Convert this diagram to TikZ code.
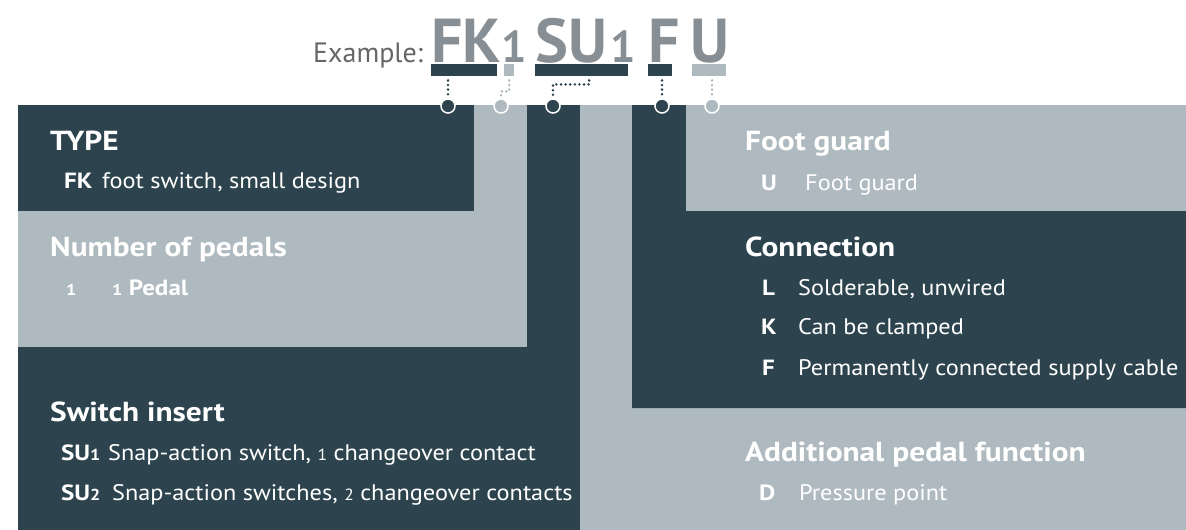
\documentclass[tikz,border=0pt]{standalone}
\usepackage{fontspec}
\setmainfont{PT Sans}[FakeStretch=1.08, BoldFeatures={FakeStretch=1.14}]
\newfontfamily\codefont{PT Sans}
\usetikzlibrary{positioning}

\definecolor{panelDark}{HTML}{2D444E}
\definecolor{panelLight}{HTML}{AFBAC0}
\definecolor{codeGray}{HTML}{878F94}
\definecolor{labelGray}{HTML}{666666}

\newcommand{\ofig}[1]{\scalebox{0.72}{#1}}

\tikzset{
  title/.style={anchor=base west, inner sep=0pt, text=white, font=\fontsize{27.5}{32}\selectfont\bfseries},
  entry/.style={anchor=base west, inner sep=0pt, text=white, font=\fontsize{22.5}{26}\selectfont},
  key/.style={entry, font=\fontsize{22}{26}\selectfont\bfseries},
  code/.style={anchor=base west, inner sep=0pt, text=codeGray, font=\codefont\fontsize{62}{70}\selectfont\bfseries},
  bar/.style={anchor=north west, inner sep=0pt, minimum height=12pt},
  pin/.style={circle, draw=white, line width=1.5pt, minimum size=14pt, inner sep=0pt},
  dots/.style={line width=2.8pt, dash pattern=on 0pt off 4.6pt, line cap=round},
}

\begin{document}
\begin{tikzpicture}[x=1pt, y=-1pt]
    \useasboundingbox (0,0) rectangle (1186,530);

    % Left column
    \fill [panelLight] (474,105) -| (527,347) -| (18,211) -| (474,105) -- cycle;
    \fill [panelDark] (18,105) rectangle (474,211);
    \fill [panelDark] (527,105) -| (580,530) -| (18,347) -| (527,105) -- cycle;

    % Right column
    \fill [panelLight] (580,105) -| (632,408) -| (1186,530) -| (580,105) -- cycle;
    \fill [panelDark] (632,105) -| (686,211) -| (1186,408) -| (632,105) -- cycle;
    \fill [panelLight] (686,105) rectangle (1186,211);

    % Example code
    \node [anchor=base west, inner sep=0pt, text=labelGray, font=\codefont\fontsize{28}{32}\selectfont] (example) at (313,62) {Example:};
    \node [code] (codeFK) at (431,62) {FK};
    \node [code] (codeOne) at (501,62) {\ofig{1}};
    \node [code] (codeSU) at (535,62) {SU};
    \node [code] (codeSUone) at (610,62) {\ofig{1}};
    \node [code] (codeF) at (648,62) {F};
    \node [code] (codeU) at (690,62) {U};

    % Bars under the code
    \node [bar, fill=panelDark, minimum width=66pt] (barFK) at (431,64) {};
    \node [bar, fill=panelLight, minimum width=10pt] (barOne) at (504,64) {};
    \node [bar, fill=panelDark, minimum width=93pt] (barSU) at (535,64) {};
    \node [bar, fill=panelDark, minimum width=24pt] (barF) at (648,64) {};
    \node [bar, fill=panelLight, minimum width=34pt] (barU) at (692,64) {};

    % Pins on the panels
    \node [pin, fill=panelDark] (pinType) at (448,106) {};
    \node [pin, fill=panelLight] (pinPedals) at (501,106) {};
    \node [pin, fill=panelDark] (pinSwitch) at (553,106) {};
    \node [pin, fill=panelDark] (pinConn) at (662,106) {};
    \node [pin, fill=panelLight] (pinGuard) at (712,106) {};

    % Dotted leaders
    \draw [dots, panelDark] ([yshift=-4pt]pinType |- barFK.south) -- (pinType.north);
    \draw [dots, panelLight] ([yshift=-4pt]barOne.south) -- ++(0,11) -| (pinPedals.north);
    \draw [dots, panelDark] ([xshift=7.5pt, yshift=-4pt]barSU.south) -- ++(0,4) -| (pinSwitch.north);
    \draw [dots, panelDark] ([yshift=-4pt]pinConn |- barF.south) -- (pinConn.north);
    \draw [dots, panelLight] ([yshift=-4pt]pinGuard |- barU.south) -- (pinGuard.north);

    % Type
    \node [title] (typeTitle) at (50,150) {TYPE};
    \node [key] (typeKey) at (64,188) {FK};
    \node [entry] (typeText) at (102,188) {foot switch, small design};

    % Number of pedals
    \node [title] (pedalTitle) at (50,256) {Number of pedals};
    \node [key] (pedalKey) at (66,295) {\ofig{1}};
    \node [key] (pedalText) at (112,295) {\ofig{1} Pedal};

    % Switch insert
    \node [title] (switchTitle) at (50,421) {Switch insert};
    \node [key] (switchKeyA) at (61,460) {SU\ofig{1}};
    \node [entry] (switchTextA) at (108,460) {Snap-action switch, \ofig{1} changeover contact};
    \node [key] (switchKeyB) at (61,500) {SU\ofig{2}};
    \node [entry] (switchTextB) at (112,500) {Snap-action switches, \ofig{2} changeover contacts};

    % Foot guard
    \node [title] (guardTitle) at (745,150) {Foot guard};
    \node [key] (guardKey) at (761,190) {U};
    \node [entry] (guardText) at (805,190) {Foot guard};

    % Connection
    \node [title] (connTitle) at (745,256) {Connection};
    \node [key] (connKeyL) at (762,295) {L};
    \node [entry] (connTextL) at (798,295) {Solderable, unwired};
    \node [key] (connKeyK) at (761,334) {K};
    \node [entry] (connTextK) at (798,334) {Can be clamped};
    \node [key] (connKeyF) at (762,375) {F};
    \node [entry] (connTextF) at (798,375) {Permanently connected supply cable};

    % Additional pedal function
    \node [title] (extraTitle) at (745,461) {Additional pedal function};
    \node [key] (extraKey) at (759,500) {D};
    \node [entry] (extraText) at (799,500) {Pressure point};
\end{tikzpicture}
\end{document}
